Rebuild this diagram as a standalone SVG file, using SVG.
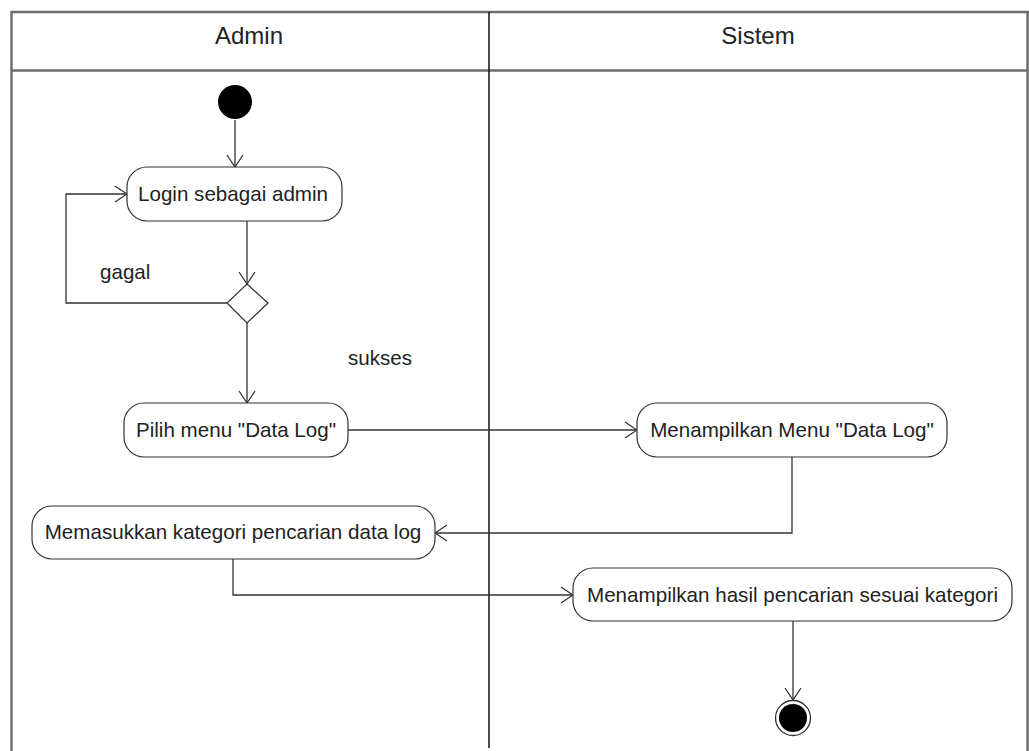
<svg xmlns="http://www.w3.org/2000/svg" width="1029" height="751" viewBox="0 0 1029 751">
  <style>
    .frame { fill: none; stroke: #6e6e6e; stroke-width: 2.5; }
    .divider { fill: none; stroke: #111; stroke-width: 1.5; }
    .act { fill: #fff; stroke: #333; stroke-width: 1.2; }
    .txt { font-family: "Liberation Sans", Arial, sans-serif; font-size: 20.6px; fill: #222; }
    .title { font-family: "Liberation Sans", Arial, sans-serif; font-size: 24px; fill: #222; text-anchor: middle; }
    .flow { fill: none; stroke: #333; stroke-width: 1.3; marker-end: url(#open); }
  </style>
  <defs>
    <marker id="open" viewBox="0 0 14 18" refX="13" refY="9" markerWidth="14" markerHeight="18" markerUnits="userSpaceOnUse" orient="auto">
      <path d="M1,1 L13,9 L1,17" fill="none" stroke="#333" stroke-width="1.3"/>
    </marker>
  </defs>
  <rect width="1029" height="751" fill="#fff"/>

  <!-- swimlanes -->
  <g id="lanes">
    <line class="frame" x1="11" y1="12" x2="1029" y2="12"/>
    <line class="frame" x1="11" y1="70.5" x2="1029" y2="70.5"/>
    <line class="frame" x1="11.5" y1="11" x2="11.5" y2="751"/>
    <line class="frame" x1="1027.5" y1="11" x2="1027.5" y2="751"/>
    <line class="divider" x1="489" y1="12" x2="489" y2="748"/>
    <text class="title" x="249" y="44">Admin</text>
    <text class="title" x="758" y="44">Sistem</text>
  </g>

  <!-- connectors -->
  <g id="connectors">
    <path class="flow" d="M235,120 L235,167"/>
    <path class="flow" d="M247,221 L247,284"/>
    <path class="flow" d="M227,303 L66,303 L66,194 L127,194"/>
    <path class="flow" d="M247,323 L247,403"/>
    <path class="flow" d="M348,430 L637,430"/>
    <path class="flow" d="M792,457 L792,533 L435,533"/>
    <path class="flow" d="M233,559 L233,595 L573,595"/>
    <path class="flow" d="M793,621 L793,700"/>
    <text class="txt" x="100" y="279">gagal</text>
    <text class="txt" x="348" y="365">sukses</text>
  </g>

  <g id="start">
    <circle cx="235" cy="102" r="17" fill="#000"/>
  </g>

  <g id="login">
    <rect class="act" x="127" y="167" width="215" height="54" rx="20"/>
    <text class="txt" x="233" y="201" text-anchor="middle">Login sebagai admin</text>
  </g>

  <g id="decision">
    <polygon class="act" points="247,284 268,303 247,323 227,303"/>
  </g>

  <g id="pilih-menu">
    <rect class="act" x="124" y="403" width="224" height="54" rx="20"/>
    <text class="txt" x="236" y="437" text-anchor="middle">Pilih menu "Data Log"</text>
  </g>

  <g id="tampil-menu">
    <rect class="act" x="637" y="403" width="310" height="54" rx="20"/>
    <text class="txt" x="792" y="437" text-anchor="middle">Menampilkan Menu "Data Log"</text>
  </g>

  <g id="masukkan-kategori">
    <rect class="act" x="32" y="506" width="403" height="53" rx="20"/>
    <text class="txt" x="233" y="539" text-anchor="middle">Memasukkan kategori pencarian data log</text>
  </g>

  <g id="tampil-hasil">
    <rect class="act" x="573" y="568" width="439" height="53" rx="20"/>
    <text class="txt" x="792.5" y="602" text-anchor="middle">Menampilkan hasil pencarian sesuai kategori</text>
  </g>

  <g id="end">
    <circle cx="793" cy="718" r="17.5" fill="#fff" stroke="#333" stroke-width="1.3"/>
    <circle cx="793" cy="718" r="14" fill="#000"/>
  </g>
</svg>
